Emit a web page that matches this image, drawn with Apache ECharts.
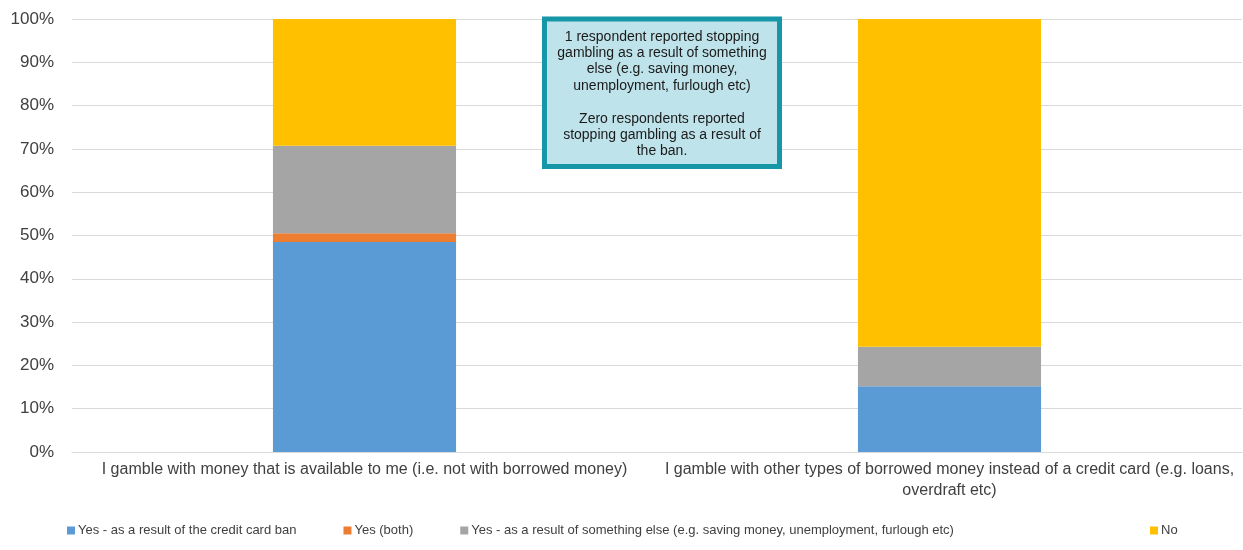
<!DOCTYPE html>
<html>
<head>
<meta charset="utf-8">
<script src="https://cdn.jsdelivr.net/npm/echarts@6/dist/echarts.min.js"></script>
<style>
html,body{margin:0;padding:0;background:#fff;}
#chart{width:1243px;height:550px;}
</style>
</head>
<body>
<div id="chart"></div>
<script>
const categories = [
  "I gamble with money that is available to me (i.e. not with borrowed money)",
  "I gamble with other types of borrowed money instead of a credit card (e.g. loans,\noverdraft etc)"
];
const seriesNames = [
  "Yes - as a result of the credit card ban",
  "Yes (both)",
  "Yes - as a result of something else (e.g. saving money, unemployment, furlough etc)",
  "No"
];
const creditCardBan = [48.5, 15.2];
const both = [2.0, 0];
const somethingElse = [20.2, 9.1];
const no = [29.3, 75.7];
const yTicks = [0, 10, 20, 30, 40, 50, 60, 70, 80, 90, 100];
const noteLines = [
  "1 respondent reported stopping",
  "gambling as a result of something",
  "else (e.g. saving money,",
  "unemployment, furlough etc)",
  "",
  "Zero respondents reported",
  "stopping gambling as a result of",
  "the ban."
];

const colors = ["#5b9bd5", "#ed7d31", "#a5a5a5", "#ffc000"];
const values = [creditCardBan, both, somethingElse, no];
const font = "Liberation Sans, Arial, sans-serif";

const legendBase = {
  bottom: 13,
  padding: 0,
  itemWidth: 8,
  itemHeight: 8,
  itemGap: 47,
  icon: 'rect',
  textStyle: {fontSize: 13, color: '#404040', fontFamily: font, padding: [0, 0, 0, -2]}
};

const chart = echarts.init(document.getElementById('chart'), null, {renderer: 'canvas'});
chart.setOption({
  animation: false,
  color: colors,
  textStyle: {fontFamily: font},
  grid: {left: 72, right: 1, top: 19, bottom: 98, containLabel: false},
  legend: [
    Object.assign({}, legendBase, {left: 67, data: seriesNames.slice(0, 3)}),
    Object.assign({}, legendBase, {left: 1150, data: seriesNames.slice(3)})
  ],
  xAxis: {
    type: 'category',
    data: categories,
    axisLine: {lineStyle: {color: '#d9d9d9'}},
    axisTick: {show: false},
    axisLabel: {fontSize: 16, color: '#404040', margin: 7, lineHeight: 21, interval: 0, fontFamily: font}
  },
  yAxis: {
    type: 'value',
    min: 0,
    max: 100,
    interval: 10,
    axisLine: {show: false},
    axisTick: {show: false},
    splitLine: {lineStyle: {color: '#d9d9d9'}},
    axisLabel: {fontSize: 17, color: '#404040', margin: 18, formatter: v => v + '%', fontFamily: font}
  },
  series: values.map((d, i) => ({
    name: seriesNames[i],
    type: 'bar',
    stack: 'total',
    barWidth: '31.3%',
    data: d
  })),
  graphic: [{
    type: 'group',
    x: 544.5,
    y: 19,
    z: 100,
    children: [
      {type: 'rect', z: 100, shape: {x: 0, y: 0, width: 235, height: 147.5}, style: {fill: '#bfe3ea', stroke: '#1697a8', lineWidth: 5}},
      {type: 'text', z: 101, style: {x: 117.5, y: 9.5, text: noteLines.join('\n'), align: 'center', verticalAlign: 'top', font: '14px Liberation Sans, Arial, sans-serif', lineHeight: 16.4, fill: '#1a1a1a'}}
    ]
  }]
});
</script>
</body>
</html>
